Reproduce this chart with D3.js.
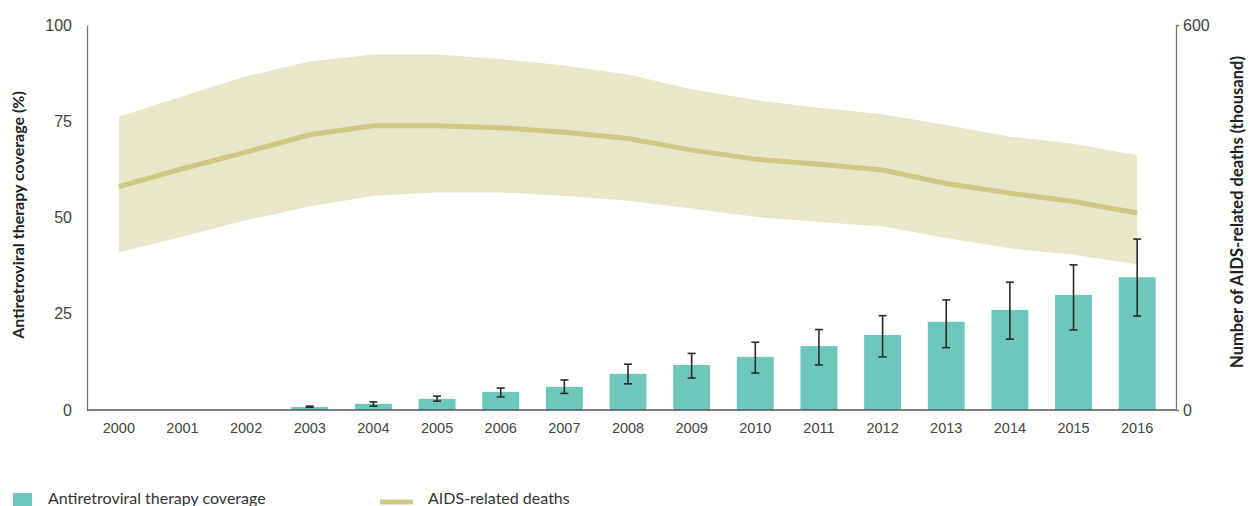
<!DOCTYPE html>
<html>
<head>
<meta charset="utf-8">
<script src="https://cdn.jsdelivr.net/npm/d3@7"></script>
<style>
  body { margin: 0; background: #fff; }
  svg { font-family: Lato, "Open Sans", sans-serif; }
</style>
</head>
<body>
<div id="chart"></div>
<script>
// data
const years = ['2000','2001','2002','2003','2004','2005','2006','2007','2008','2009','2010','2011','2012','2013','2014','2015','2016']
const coverage = [0, 0, 0, 0.8, 1.6, 2.9, 4.7, 6.0, 9.4, 11.7, 13.8, 16.6, 19.5, 22.9, 26.0, 29.9, 34.5]
const coverageLow = [null, null, null, 0.7, 1.0, 2.3, 3.4, 4.3, 6.8, 8.3, 9.6, 11.7, 13.8, 16.2, 18.4, 20.8, 24.4]
const coverageHigh = [null, null, null, 1.0, 2.1, 3.6, 5.7, 7.8, 11.9, 14.7, 17.6, 20.9, 24.5, 28.6, 33.2, 37.7, 44.4]
const deaths = [348, 376, 402, 429, 443, 443, 440, 433, 423, 405, 391, 383, 374, 353, 338, 325, 307]
const deathsHigh = [457, 489, 520, 543, 554, 554, 547, 537, 523, 500, 483, 471, 461, 444, 426, 415, 397]
const deathsLow = [246, 270, 296, 317, 334, 339, 339, 334, 326, 314, 301, 293, 286, 268, 252, 242, 227]
const leftTicks = [0, 25, 50, 75, 100]
const rightTicks = [0, 600]

const width = 1255, height = 506
const svg = d3.select('#chart').append('svg')
  .attr('width', width)
  .attr('height', height)

const x = d3.scaleBand()
  .domain(years)
  .range([87, 1169])
  .paddingInner(0.42)
  .paddingOuter(0.21)
const cx = (d) => x(d) + x.bandwidth() / 2

const yL = d3.scaleLinear().domain([0, 100]).range([410, 25])
const yR = d3.scaleLinear().domain([0, 600]).range([410, 25])

// band of deaths uncertainty
const area = d3.area()
  .x((d, i) => cx(years[i]))
  .y0((d, i) => yR(deathsLow[i]))
  .y1((d, i) => yR(deathsHigh[i]))
svg.append('path')
  .datum(deaths)
  .attr('d', area)
  .attr('fill', '#e8e7c9')

// bars
svg.append('g').selectAll('rect')
  .data(coverage)
  .join('rect')
  .attr('x', (d, i) => x(years[i]))
  .attr('width', x.bandwidth())
  .attr('y', (d) => yL(d))
  .attr('height', (d) => yL(0) - yL(d))
  .attr('fill', '#6dc7bc')

// deaths line
const line = d3.line()
  .x((d, i) => cx(years[i]))
  .y((d) => yR(d))
svg.append('path')
  .datum(deaths)
  .attr('d', line)
  .attr('fill', 'none')
  .attr('stroke', '#cfc985')
  .attr('stroke-width', 5)

// error bars
const errG = svg.append('g')
  .attr('stroke', '#2a2a2a')
  .attr('stroke-width', 1.6)
years.forEach((yr, i) => {
  if (coverageLow[i] == null) return
  const xc = cx(yr)
  errG.append('line')
    .attr('x1', xc).attr('x2', xc)
    .attr('y1', yL(coverageLow[i])).attr('y2', yL(coverageHigh[i]))
  ;[coverageLow[i], coverageHigh[i]].forEach((v) => {
    errG.append('line')
      .attr('x1', xc - 4).attr('x2', xc + 4)
      .attr('y1', yL(v)).attr('y2', yL(v))
  })
})

// axes
const leftAxis = svg.append('g')
  .attr('transform', 'translate(87,0)')
  .call(d3.axisLeft(yL).tickValues(leftTicks).tickSize(0).tickPadding(15))
leftAxis.select('.domain').attr('stroke', '#777').attr('stroke-width', 1.3)

const rightAxis = svg.append('g')
  .attr('transform', 'translate(1176,0)')
  .call(d3.axisRight(yR).tickValues(rightTicks).tickSize(3).tickPadding(4))
rightAxis.select('.domain').attr('stroke', '#777').attr('stroke-width', 1.3)
rightAxis.selectAll('.tick line').attr('stroke', '#777')

const bottomAxis = svg.append('g')
  .attr('transform', 'translate(0,410)')
  .call(d3.axisBottom(x).tickSize(0).tickPadding(13))
bottomAxis.select('.domain')
  .attr('d', 'M87,0H1176')
  .attr('stroke', '#555')
  .attr('stroke-width', 1.5)

svg.selectAll('.tick text')
  .attr('fill', '#444')
  .style('font-size', '16px')
  .style('font-weight', 300)
bottomAxis.selectAll('.tick text').style('font-size', '14.5px')

// axis titles
svg.append('text')
  .attr('transform', 'translate(24,215) rotate(-90)')
  .attr('text-anchor', 'middle')
  .attr('font-size', 16)
  .attr('font-weight', 'bold')
  .attr('fill', '#222')
  .text('Antiretroviral therapy coverage (%)')

svg.append('text')
  .attr('transform', 'translate(1243,212) rotate(-90)')
  .attr('text-anchor', 'middle')
  .attr('font-size', 16.5)
  .attr('font-weight', 'bold')
  .attr('fill', '#222')
  .text('Number of AIDS-related deaths (thousand)')

// legend
const legend = svg.append('g')
legend.append('rect')
  .attr('x', 13).attr('y', 493)
  .attr('width', 19).attr('height', 19)
  .attr('fill', '#6dc7bc')
legend.append('text')
  .attr('x', 48).attr('y', 504)
  .attr('font-size', 16)
  .attr('fill', '#333')
  .text('Antiretroviral therapy coverage')
legend.append('line')
  .attr('x1', 380).attr('x2', 413)
  .attr('y1', 502).attr('y2', 502)
  .attr('stroke', '#cfc985')
  .attr('stroke-width', 5)
legend.append('text')
  .attr('x', 428).attr('y', 504)
  .attr('font-size', 16)
  .attr('fill', '#333')
  .text('AIDS-related deaths')
</script>
</body>
</html>
